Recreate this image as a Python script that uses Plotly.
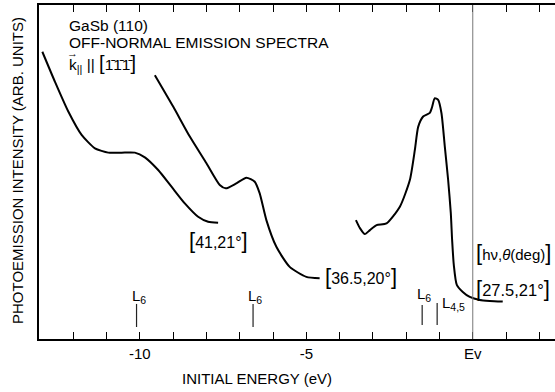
import plotly.graph_objects as go

# ---- data ----
e41_x = [-12.93, -12.55, -12.15, -11.75, -11.35, -10.95, -10.55, -10.15, -9.85, -9.45, -9.05, -8.65, -8.25, -7.95, -7.65]
e41_y = [86.0, 77.0, 68.1, 61.1, 57.1, 55.8, 55.8, 55.8, 54.4, 50.6, 45.6, 40.6, 36.6, 35.1, 34.8]

e365_x = [-9.55, -9.0, -8.5, -8.0, -7.6, -7.42, -7.1, -6.8, -6.55, -6.4, -6.2, -5.9, -5.5, -5.0, -4.6]
e365_y = [79.0, 69.6, 60.6, 52.6, 46.1, 45.1, 46.6, 48.3, 47.1, 43.6, 35.6, 27.6, 21.6, 18.6, 18.2]

e275_x = [-3.51, -3.39, -3.24, -3.09, -2.89, -2.59, -2.19, -1.89, -1.74, -1.64, -1.49, -1.29, -1.23, -1.14,
          -1.04, -0.94, -0.84, -0.74, -0.66, -0.62, -0.57, -0.48, -0.30, -0.09, 0.21, 0.51, 0.90]
e275_y = [35.6, 33.2, 31.4, 32.6, 34.1, 34.6, 39.6, 47.6, 56.6, 63.5, 66.6, 67.7, 69.2, 72.1,
          71.6, 67.6, 57.6, 47.6, 37.7, 29.6, 22.2, 16.2, 14.1, 12.6, 11.7, 11.4, 11.2]

spectra_labels = ["41,21°", "36.5,20°", "27.5,21°"]

l_points_x = [-10.1, -6.6, -1.52, -1.07]
l_points_names = ["L<sub>6</sub>", "L<sub>6</sub>", "L<sub>6</sub>", "L<sub>4,5</sub>"]

tick_vals = list(range(-13, 3))
tick_text = ["-10" if v == -10 else "-5" if v == -5 else "Ev" if v == 0 else "" for v in tick_vals]

FONT = "Liberation Sans, Arial, sans-serif"

fig = go.Figure()
for xs, ys in [(e41_x, e41_y), (e365_x, e365_y), (e275_x, e275_y)]:
    fig.add_trace(go.Scatter(x=xs, y=ys, mode="lines",
                             line=dict(color="black", width=2, shape="spline", smoothing=0.6),
                             hoverinfo="skip", showlegend=False))

# L critical point markers (vertical bars)
l_tops = [10.5, 10.5, 10.2, 10.8]
l_bots = [3.6, 3.6, 4.2, 4.2]
lx, ly = [], []
for x, t, b in zip(l_points_x, l_tops, l_bots):
    lx += [x, x, None]
    ly += [b, t, None]
fig.add_trace(go.Scatter(x=lx, y=ly, mode="lines", line=dict(color="#222", width=1.2),
                         hoverinfo="skip", showlegend=False))

# Ev line
fig.add_vline(x=0, line=dict(color="#777", width=1))

def br(s, big=22):
    return f'<span style="font-size:{big}px">[</span>{s}<span style="font-size:{big}px">]</span>'

def txt(size):
    return dict(size=size, family=FONT, color="black")

ann = []
# title texts
ann.append(dict(x=-12.19, y=94.0, text="GaSb (110)", xanchor="left", yanchor="middle", showarrow=False,
                font=txt(15.5)))
ann.append(dict(x=-12.19, y=88.9, text="OFF-NORMAL EMISSION SPECTRA", xanchor="left", yanchor="middle",
                showarrow=False, font=txt(15.5)))
ann.append(dict(x=-12.19, y=82.6, text="k<sub>||</sub> || " + br("1\u03041\u03041\u0304", 20),
                xanchor="left", yanchor="middle", showarrow=False, font=txt(15.5)))
ann.append(dict(x=-12.19, y=85.6, text="\u2192", xanchor="left", yanchor="middle", showarrow=False,
                xshift=-2, font=txt(11)))

# spectrum labels
ann.append(dict(x=-7.65, y=29.6, text=br(spectra_labels[0]), xanchor="center", yanchor="middle",
                showarrow=False, font=txt(16)))
ann.append(dict(x=-4.5, y=18.6, text=br(spectra_labels[1]), xanchor="left", yanchor="middle",
                showarrow=False, font=txt(16)))
ann.append(dict(x=0.03, y=25.9, text=br("h\u03bd,<i>\u03b8</i>(deg)"), xanchor="left", yanchor="middle",
                showarrow=False, font=txt(15)))
ann.append(dict(x=0.03, y=15.0, text=br(spectra_labels[2]), xanchor="left", yanchor="middle",
                showarrow=False, font=txt(16.5)))

# L labels
l_shift = [-7, -7, -7, 3]
l_ys = [12.8, 12.8, 13.2, 10.6]
for x, name, s, y in zip(l_points_x, l_points_names, l_shift, l_ys):
    ann.append(dict(x=x, y=y, text=name, xanchor="left", yanchor="middle", xshift=s, showarrow=False,
                    font=txt(15)))

# axis titles
ann.append(dict(xref="paper", yref="paper", x=-0.0407, y=0.506, text="PHOTOEMISSION INTENSITY (ARB. UNITS)",
                textangle=-90, xanchor="center", yanchor="middle", showarrow=False, font=txt(15)))
ann.append(dict(xref="paper", yref="paper", x=0.4234, y=-0.1168, text="INITIAL ENERGY (eV)",
                xanchor="center", yanchor="middle", showarrow=False, font=txt(15)))

fig.update_layout(
    width=555, height=392,
    margin=dict(l=39, r=0, t=5, b=53),
    paper_bgcolor="white", plot_bgcolor="white",
    font=dict(family=FONT, size=15, color="black"),
    annotations=ann,
    xaxis=dict(range=[-13.03, 2.47], tickvals=tick_vals, ticktext=tick_text, ticks="inside", ticklen=7,
               tickwidth=1.2, tickcolor="black", showline=True, linecolor="black", linewidth=1.5,
               mirror="ticks", showgrid=False, zeroline=False, tickfont=dict(size=15, family=FONT)),
    yaxis=dict(range=[0, 100], showticklabels=False, ticks="", showline=True, linecolor="black",
               linewidth=1.5, mirror=False, showgrid=False, zeroline=False),
)

fig.write_html("out.html", config={"displayModeBar": False},
               post_script="document.body.style.margin='0';")
